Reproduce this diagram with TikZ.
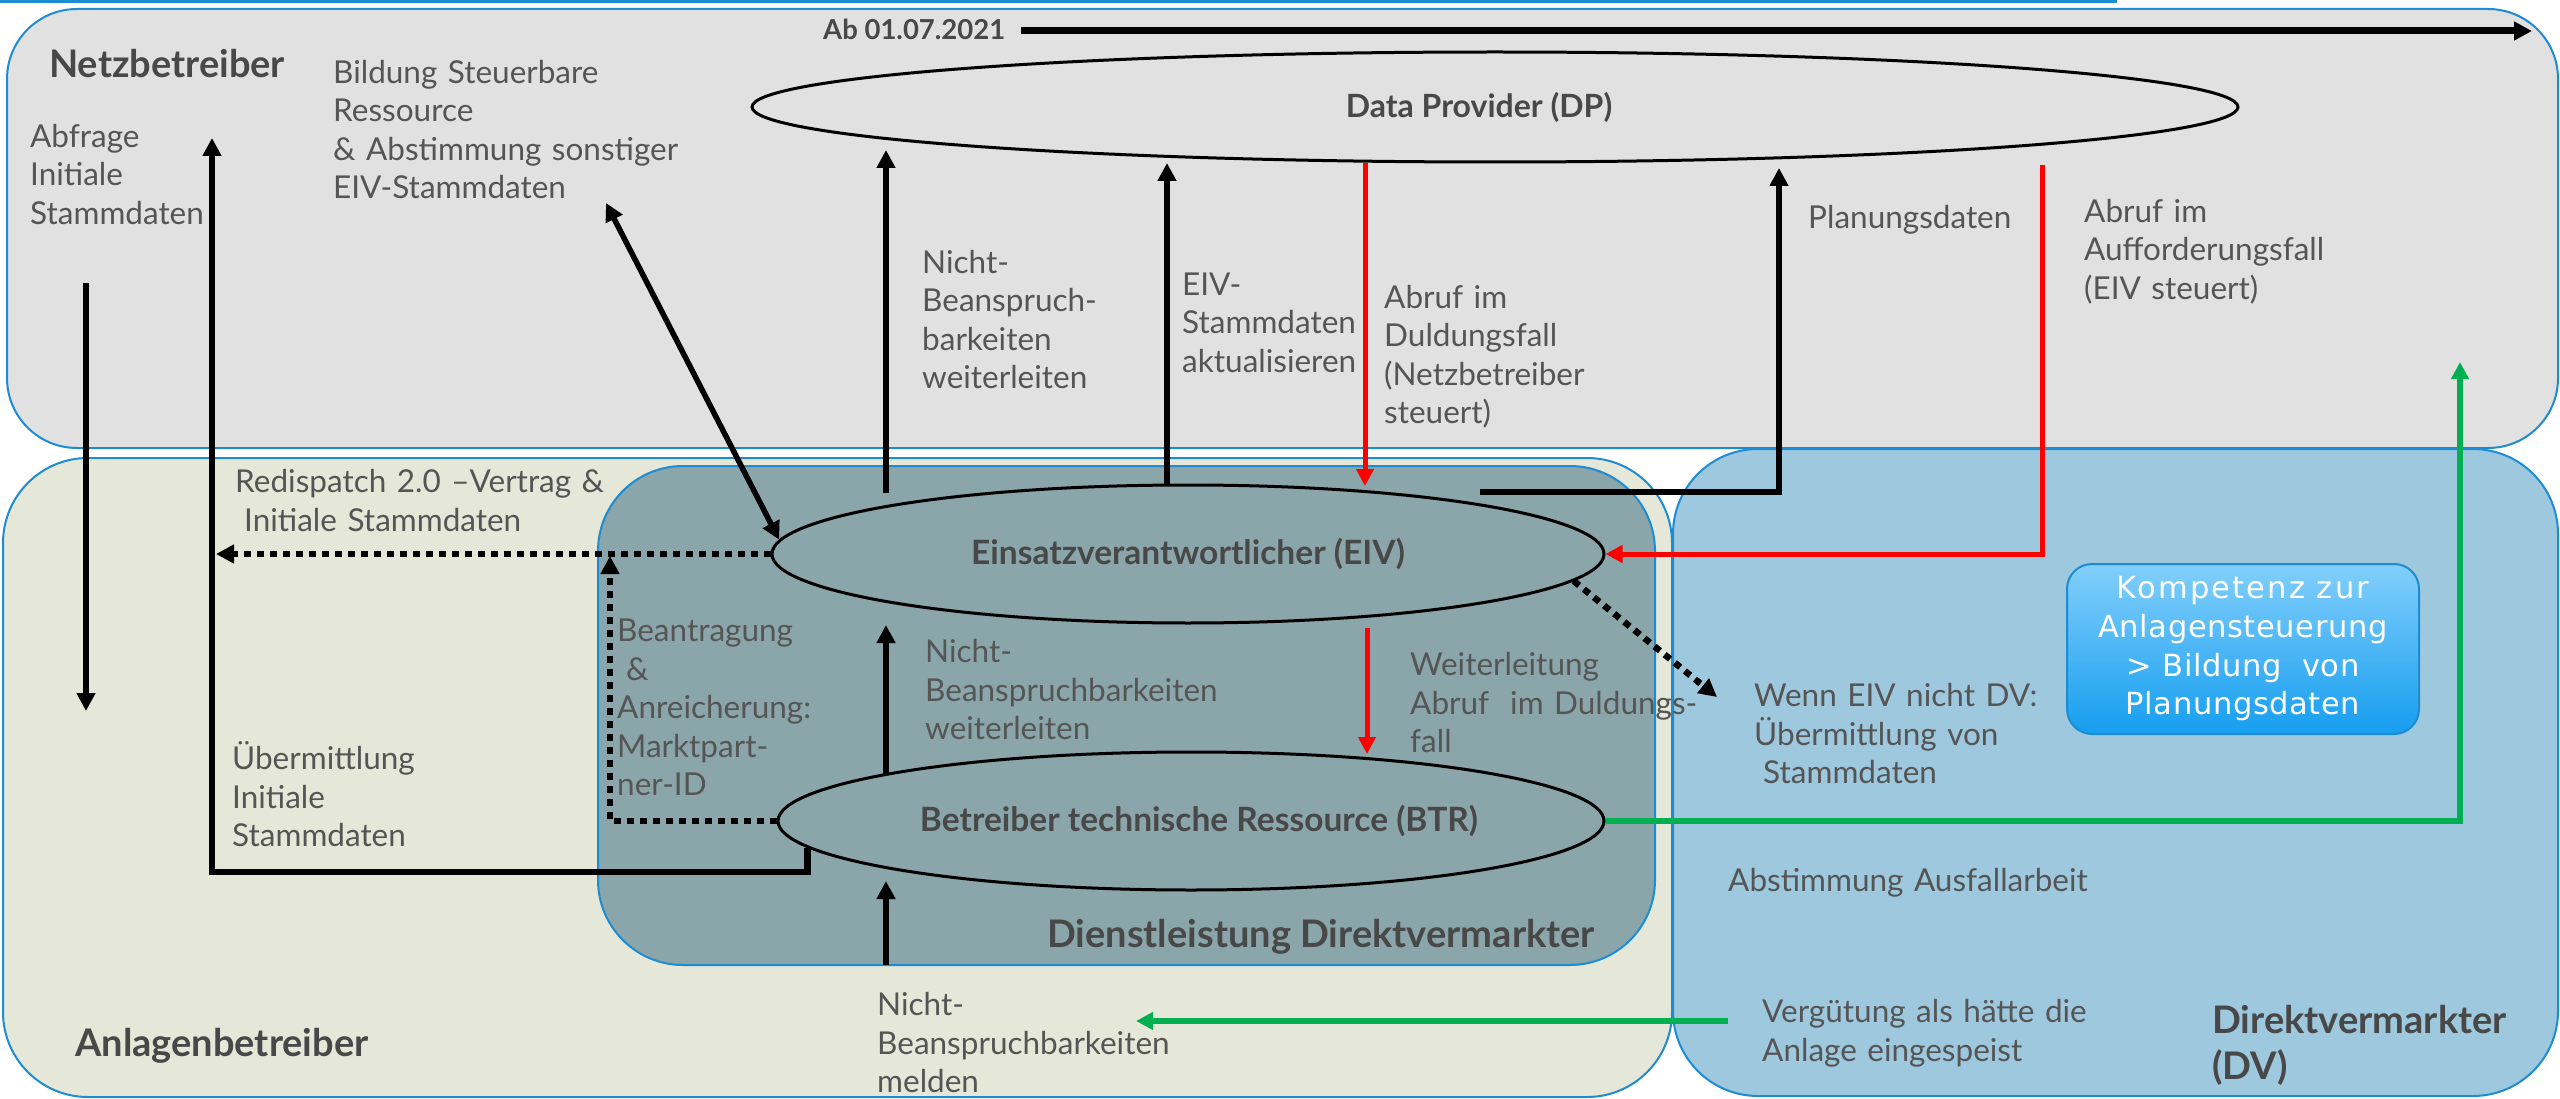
\documentclass[tikz,border=0pt]{standalone}
\usepackage{fontspec}
\setmainfont{Lato}
\newfontfamily\kompfont{DejaVu Sans}
\usetikzlibrary{arrows.meta,shapes.geometric}
\definecolor{netzfill}{RGB}{225,225,225}
\definecolor{anlfill}{RGB}{229,232,216}
\definecolor{dvfill}{RGB}{158,200,222}
\definecolor{dlfill}{RGB}{139,166,170}
\definecolor{bordblue}{RGB}{30,140,210}
\definecolor{txtgray}{RGB}{85,85,85}
\definecolor{boldgray}{RGB}{72,72,72}
\definecolor{arrred}{RGB}{255,0,0}
\definecolor{arrgreen}{RGB}{0,176,80}
\definecolor{komptop}{RGB}{130,207,251}
\definecolor{kompbot}{RGB}{22,158,240}
\tikzset{
  region/.style={draw=bordblue, line width=2pt},
  txt/.style={inner sep=0pt, anchor=base west, text width=600pt, align=left, text=txtgray,
    font=\fontsize{31.5}{38.5}\selectfont},
  ttl/.style={inner sep=0pt, text=boldgray, font=\fontsize{38}{46}\selectfont\bfseries},
  ell/.style={ellipse, draw=black, line width=3pt, inner sep=0pt, text=boldgray,
    font=\fontsize{33.5}{38}\selectfont\bfseries},
  blk/.style={draw=black, line width=6.5pt, -{Triangle[length=18pt,width=18pt]}},
  blkboth/.style={draw=black, line width=5.5pt, {Triangle[length=18pt,width=18pt]}-{Triangle[length=18pt,width=18pt]}},
  redarr/.style={draw=arrred, line width=5pt, -{Triangle[length=17pt,width=17pt]}},
  grnarr/.style={draw=arrgreen, line width=5.5pt, -{Triangle[length=17pt,width=17pt]}},
  dotarr/.style={draw=black, line width=6.5pt, dash pattern=on 7pt off 6pt, -{Triangle[length=18pt,width=18pt]}},
  komp/.style={rectangle, rounded corners=25pt, draw=bordblue, line width=2pt,
    top color=komptop, bottom color=kompbot, minimum width=352pt, minimum height=170pt,
    text=white, align=center, inner sep=0pt,
    font=\kompfont\fontsize{30.5}{38.7}\selectfont\addfontfeature{LetterSpace=2}},
}
\begin{document}
\begin{tikzpicture}[x=1pt,y=-1pt]
\useasboundingbox (0,0) rectangle (2560,1099);
\fill[white] (0,0) rectangle (2560,1099);
\draw[bordblue, line width=3pt] (0,1.5) -- (2117,1.5);

% regions
\path[region, fill=netzfill, rounded corners=70pt] (7,9) rectangle (2558,448);
\path[region, fill=anlfill, rounded corners=85pt] (3,458) rectangle (1672,1097);
\path[region, fill=dvfill, rounded corners=85pt] (1673,449) rectangle (2558,1096);
\path[region, fill=dlfill, rounded corners=85pt] (598,466) rectangle (1655,965);

% region titles
\node[ttl, anchor=base west] (netz) at (49,78) {Netzbetreiber};
\node[ttl, anchor=base west] (anl) at (75,1056) {Anlagenbetreiber};
\node[ttl, anchor=base east] (dl) at (1595,947) {Dienstleistung Direktvermarkter};
\node[ttl, anchor=base west, text width=400pt, align=left] (dv) at (2212,1033) {Direktvermarkter\\(DV)};

% ellipses
\node[ell, minimum width=1486pt, minimum height=110pt, font=\fontsize{32}{38}\selectfont\bfseries] (dp) at (1495,107) {\hspace*{-32pt}Data Provider (DP)};
\node[ell, minimum width=832pt, minimum height=138pt] (eiv) at (1188,554) {Einsatzverantwortlicher (EIV)};
\node[ell, minimum width=826pt, minimum height=138pt] (btr) at (1191,821) {\hspace*{16pt}Betreiber technische Ressource (BTR)};

% competence box
\node[komp] (komp) at (2243,649) {{\addfontfeature{LetterSpace=7}Kompetenz zur}\\Anlagensteuerung\\> Bildung\ \ von\\Planungsdaten};

% date
\node[inner sep=0pt, anchor=base west, text=boldgray, font=\fontsize{27.5}{33}\selectfont\bfseries] (ab) at (823,40) {Ab 01.07.2021};
\coordinate (abstart) at (1021,31);
\coordinate (abend) at (2532,31);
\draw[blk, line width=7pt] (abstart) -- (abend);

% texts
\node[txt] (tabfrage) at (30,147.5) {Abfrage\\Initiale\\Stammdaten};
\node[txt] (tbildung) at (333,83.5) {Bildung Steuerbare\\Ressource\\\& Abstimmung sonstiger\\EIV-Stammdaten};
\node[txt] (tnba) at (922,273.5) {Nicht-\\Beanspruch-\\barkeiten\\weiterleiten};
\node[txt] (teivst) at (1182,295.5) {EIV-\\Stammdaten\\aktualisieren};
\node[txt] (tdul) at (1384,308.5) {Abruf im\\Duldungsfall\\(Netzbetreiber\\steuert)};
\node[txt] (tplan) at (1808,228.5) {Planungsdaten};
\node[txt] (tauff) at (2084,222.5) {Abruf im\\Aufforderungsfall\\(EIV steuert)};
\node[txt] (tredis) at (235,492.5) {Redispatch 2.0 –Vertrag \&\\\hspace*{9pt}Initiale Stammdaten};
\node[txt] (tbeantr) at (617,641.5) {Beantragung\\\hspace*{9pt}\&\\Anreicherung:\\Marktpart-\\ner-ID};
\node[txt] (tnbb) at (925,662.5) {Nicht-\\Beanspruchbarkeiten\\weiterleiten};
\node[txt] (tweiter) at (1410,675.5) {Weiterleitung\\Abruf\ \ im Duldungs-\\fall};
\node[txt] (twenn) at (1754,706.5) {Wenn EIV nicht DV:\\Übermittlung von\\\hspace*{9pt}Stammdaten};
\node[txt] (tueber) at (232,769.5) {Übermittlung\\Initiale\\Stammdaten};
\node[txt] (tabst) at (1728,891.5) {Abstimmung Ausfallarbeit};
\node[txt] (tnbc) at (877,1015.5) {Nicht-\\Beanspruchbarkeiten\\melden};
\node[txt] (tverg) at (1762,1022.5) {Vergütung als hätte die\\Anlage eingespeist};

% coordinates
\coordinate (abf1) at (86,283);
\coordinate (abf2) at (86,711);
\coordinate (ueb2) at (212,872);
\coordinate (ueb3) at (212,138);
\coordinate (bild) at (606,203);
\coordinate (nb1a) at (886,493);
\coordinate (nb1b) at (886,150);
\coordinate (es1) at (1167,485);
\coordinate (es2) at (1167,163);
\coordinate (rd1) at (1365,163);
\coordinate (rd2) at (1365,486);
\coordinate (pl1) at (1480,492);
\coordinate (pl2) at (1779,492);
\coordinate (pl3) at (1779,168);
\coordinate (ra1) at (2042,165);
\coordinate (gr2) at (2460,362);
\coordinate (rdtip) at (216,554);
\coordinate (bt2) at (610,556);
\coordinate (nb2a) at (886,774);
\coordinate (nb2b) at (886,625);
\coordinate (rw1) at (1367,628);
\coordinate (rw2) at (1367,754);
\coordinate (wenntip) at (1717,697);
\coordinate (nb3a) at (886,965);
\coordinate (nb3b) at (886,881);
\coordinate (vg1) at (1728,1021);
\coordinate (vg2) at (1136,1021);

% connectors
\draw[blk] (abf1) -- (abf2);
\draw[blk] (btr.184) -- (btr.184 |- ueb2) -- (ueb2) -- (ueb3);
\draw[blkboth] (bild) -- (eiv.178);
\draw[blk] (nb1a) -- (nb1b);
\draw[blk] (es1) -- (es2);
\draw[redarr] (rd1) -- (rd2);
\draw[blk] (pl1) -- (pl2) -- (pl3);
\draw[redarr] (ra1) -- (ra1 |- eiv.east) -- (eiv.east);
\draw[grnarr] (btr.east) -- (btr.east -| gr2) -- (gr2);
\draw[dotarr] (eiv.west) -- (rdtip);
\draw[dotarr] (btr.west) -- (btr.west -| bt2) -- (bt2);
\draw[blk] (nb2a) -- (nb2b);
\draw[redarr] (rw1) -- (rw2);
\draw[dotarr] (eiv.-4.6) -- (wenntip);
\draw[blk] (nb3a) -- (nb3b);
\draw[grnarr] (vg1) -- (vg2);
\end{tikzpicture}
\end{document}
